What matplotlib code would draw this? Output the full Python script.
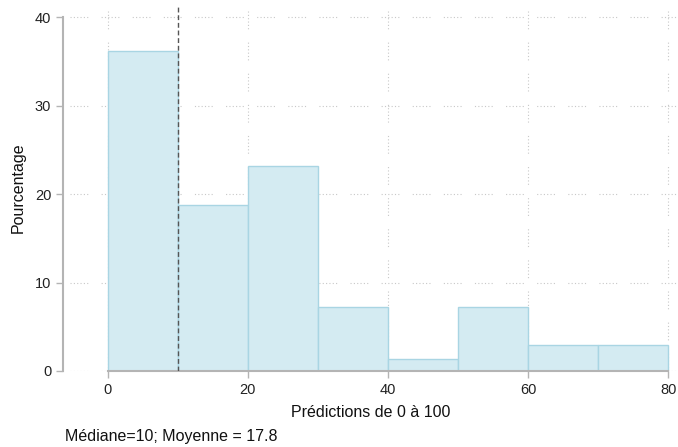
import numpy as np
import matplotlib
matplotlib.use("Agg")
import matplotlib.pyplot as plt

plt.rcParams['font.family'] = ['Liberation Sans', 'DejaVu Sans']

# histogram (width 10)
bin_edges = [0, 10, 20, 30, 40, 50, 60, 70, 80]
pct = [36.2, 18.8, 23.2, 7.2, 1.4, 7.2, 2.9, 2.9]
median = 10
mean = 17.8
xticks = [0, 20, 40, 60, 80]
yticks = [0, 10, 20, 30, 40]

fig = plt.figure(figsize=(6.78, 4.47), dpi=100)
ax = fig.add_axes([63/678, 76/447, 615/678, 366/447])

grid_ls = (0, (1, 2, 1, 2, 1, 2, 1, 2, 1, 2, 1, 12))
for y in yticks:
    ax.axhline(y, xmin=0.012, color="#c8c8c8", lw=0.8, ls=grid_ls, zorder=0)
for x in xticks:
    ax.axvline(x, ymax=0.985, color="#c8c8c8", lw=0.8, ls=grid_ls, zorder=0)

lefts = bin_edges[:-1]
ax.bar(lefts, pct, width=10, align="edge", color="#d4ebf2",
       edgecolor="#a9d5e3", linewidth=1, zorder=2)

ax.axvline(median, color="#555555", lw=1, ls=(0, (3.5, 2)), zorder=3)

ax.set_xlim(-6.4, 81.4)
ax.set_ylim(0, 41.4)
ax.set_xticks(xticks)
ax.set_yticks(yticks)

for s in ["top", "right"]:
    ax.spines[s].set_visible(False)
ax.spines["left"].set_bounds(0, 40)
ax.spines["bottom"].set_bounds(0, 80)
ax.spines["left"].set_color("#b4b4b4")
ax.spines["bottom"].set_color("#b4b4b4")
ax.spines["left"].set_linewidth(1.5)
ax.spines["bottom"].set_linewidth(1.5)
ax.tick_params(axis="both", colors="#b4b4b4", labelcolor="#222222",
               labelsize=10.5, length=5, width=1)

ax.set_ylabel("Pourcentage", fontsize=11.5, color="#111111", va="center")
ax.yaxis.set_label_coords(-0.073, 0.5)
ax.set_xlabel("Prédictions de 0 à 100", fontsize=11.5, color="#111111", labelpad=6)

fig.text(65/678, 1 - 437/447, "Médiane=10; Moyenne = 17.8",
         fontsize=11.5, color="#111111", va="center", ha="left")

fig.savefig("out.png", dpi=100)
